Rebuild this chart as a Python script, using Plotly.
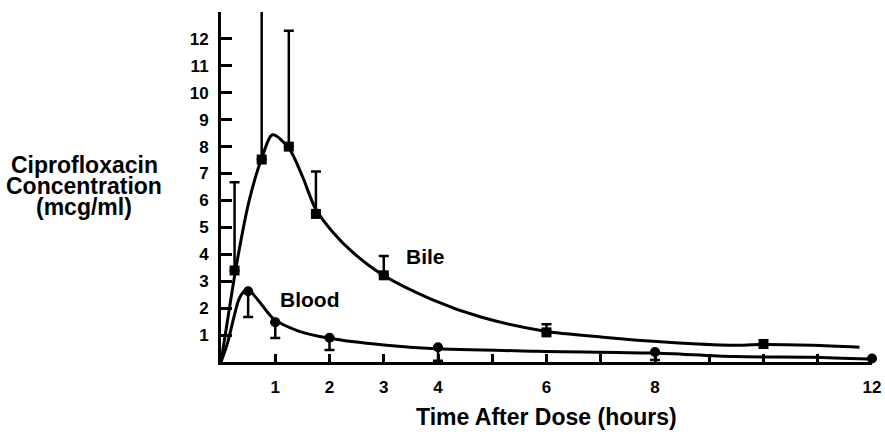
import plotly.graph_objects as go

# ---- data ----
bile_x = [0.25, 0.75, 1.25, 1.75, 3.0, 6.0, 10.0]
bile_y = [3.4, 7.52, 8.0, 5.5, 3.22, 1.1, 0.67]
bile_err_up = [3.28, 5.55, 4.3, 1.58, 0.72, 0.3, 0.0]

blood_x = [0.5, 1.0, 2.0, 4.0, 8.0, 12.0]
blood_y = [2.63, 1.48, 0.9, 0.55, 0.37, 0.13]
blood_err_down = [0.96, 0.59, 0.45, 0.5, 0.3, 0.0]

bile_curve_x = [0, 0.14, 0.28, 0.52, 0.74, 0.95, 1.25, 1.5, 1.74, 2.07, 2.43, 2.97,
                3.88, 4.79, 5.95, 7.04, 8.24, 9.4, 9.95, 10.9, 11.77]
bile_curve_y = [0, 1.8, 3.55, 6.0, 7.5, 8.44, 7.95, 6.9, 5.7, 4.8, 4.07, 3.25,
                2.33, 1.67, 1.15, 0.92, 0.73, 0.62, 0.65, 0.62, 0.55]

blood_curve_x = [0, 0.12, 0.23, 0.33, 0.43, 0.52, 0.7, 0.97, 1.43, 2.0, 3.0, 3.88,
                 5.84, 7.95, 9.46, 10.9, 11.95]
blood_curve_y = [0, 0.7, 1.6, 2.33, 2.63, 2.65, 2.26, 1.6, 1.15, 0.88, 0.63, 0.5,
                 0.4, 0.33, 0.2, 0.18, 0.11]

x_tickvals = [1, 2, 3, 4, 5, 6, 7, 8, 9, 10, 11, 12]
x_ticktext = ["1", "2", "3", "4", "", "6", "", "8", "", "", "", "12"]
y_tickvals = [1, 2, 3, 4, 5, 6, 7, 8, 9, 10, 11, 12]

y_title_lines = ["Ciprofloxacin", "Concentration", "(mcg/ml)"]
x_title = "Time After Dose (hours)"
series_labels = {"Bile": (3.77, 3.93), "Blood": (1.63, 2.33)}

FONT = "Liberation Sans, Arial, Helvetica, sans-serif"

fig = go.Figure()

fig.add_trace(go.Scatter(x=bile_curve_x, y=bile_curve_y, mode="lines",
                         line=dict(color="black", width=3, shape="spline", smoothing=0.8),
                         hoverinfo="skip", showlegend=False))
fig.add_trace(go.Scatter(x=blood_curve_x, y=blood_curve_y, mode="lines",
                         line=dict(color="black", width=3, shape="spline", smoothing=0.8),
                         hoverinfo="skip", showlegend=False))

fig.add_trace(go.Scatter(x=bile_x, y=bile_y, mode="markers", name="Bile",
                         marker=dict(symbol="square", size=10, color="black"),
                         error_y=dict(type="data", symmetric=False, array=bile_err_up,
                                      arrayminus=[0] * len(bile_x), color="black",
                                      thickness=2.5, width=5),
                         cliponaxis=False, showlegend=False))
fig.add_trace(go.Scatter(x=blood_x, y=blood_y, mode="markers", name="Blood",
                         marker=dict(symbol="circle", size=10, color="black"),
                         error_y=dict(type="data", symmetric=False, array=[0] * len(blood_x),
                                      arrayminus=blood_err_down, color="black",
                                      thickness=2.5, width=5),
                         cliponaxis=False, showlegend=False))

for txt, (lx, ly) in series_labels.items():
    fig.add_annotation(x=lx, y=ly, xref="x", yref="y", text="<b>%s</b>" % txt,
                       showarrow=False, font=dict(family=FONT, size=21, color="black"))

for line, yv in zip(y_title_lines, [7.33, 6.52, 5.74]):
    fig.add_annotation(x=0, y=yv, xref="paper", yref="y", text="<b>%s</b>" % line,
                       xanchor="center", xshift=-137, showarrow=False,
                       font=dict(family=FONT, size=23, color="black"))

fig.add_annotation(x=6, y=0, xref="x", yref="paper", text="<b>%s</b>" % x_title,
                   yanchor="middle", yshift=-55, showarrow=False,
                   font=dict(family=FONT, size=23, color="black"))

fig.update_xaxes(range=[0, 12], tickvals=x_tickvals, ticktext=x_ticktext,
                 ticks="inside", ticklen=8, tickwidth=2.5, tickcolor="black",
                 showline=True, linewidth=3, linecolor="black",
                 showgrid=False, zeroline=False, ticklabelstandoff=8,
                 ticklabeloverflow="allow",
                 tickfont=dict(family=FONT, size=17, color="black", weight="bold"))
fig.update_yaxes(range=[0, 13], tickvals=y_tickvals,
                 ticks="inside", ticklen=11, tickwidth=2.5, tickcolor="black",
                 showline=True, linewidth=3, linecolor="black",
                 showgrid=False, zeroline=False, ticklabelstandoff=6,
                 tickfont=dict(family=FONT, size=17, color="black", weight="bold"))

fig.update_layout(width=885, height=434, margin=dict(l=221, r=4, t=12, b=72),
                  plot_bgcolor="white", paper_bgcolor="white", showlegend=False)

fig.write_html("out.html", config={"displayModeBar": False},
               post_script="document.body.style.margin='0';document.body.style.overflow='hidden';")
